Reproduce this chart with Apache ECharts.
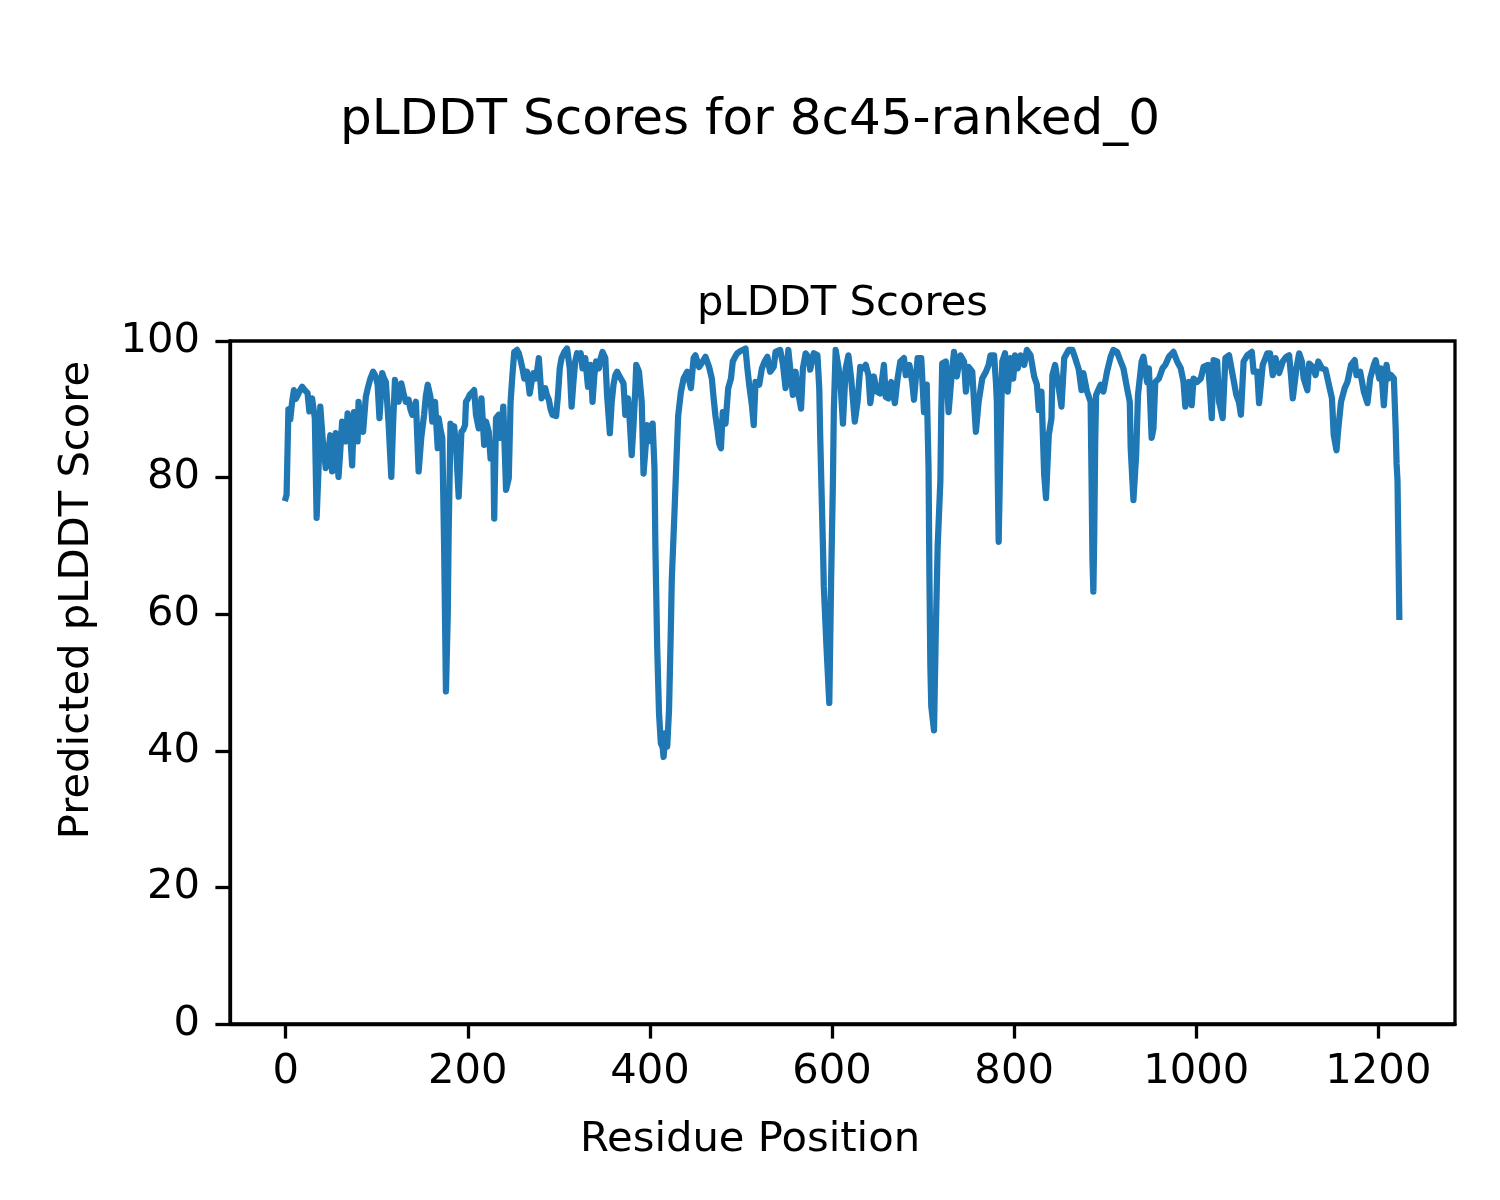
<!DOCTYPE html>
<html>
<head>
<meta charset="utf-8">
<script src="https://cdn.jsdelivr.net/npm/echarts@6/dist/echarts.min.js"></script>
<style>
html,body{margin:0;padding:0;background:#fff;}
#chart{width:1500px;height:1200px;}
</style>
</head>
<body>
<div id="chart"></div>
<script>
// Residue positions (x) and pLDDT values (y)
const residues = [
0,1,3,5,7,9,11,13,15,18,21,24,26,29,32,34,36,38,41,44,47,49,51,53,55,58,60,62,64,66,68,71,73,75,77,79,80,82,85,88,90,93,96,99,101,103,106,108,110,113,116,118,120,122,124,127,130,132,135,137,139,141,143,146,149,152,154,156,159,161,164,167,168,170,172,174,176,178,179,181,183,185,187,190,193,195,197,198,200,202,205,207,209,212,215,218,220,223,225,228,229,231,234,236,239,242,245,247,249,251,254,256,258,260,262,265,268,270,272,275,278,281,283,285,287,289,291,293,297,299,301,303,306,309,312,314,316,318,320,322,324,326,329,332,335,337,339,341,344,346,348,351,353,356,358,360,362,364,366,368,371,373,376,378,380,382,384,385,388,391,393,395,397,399,401,403,405,406,408,410,412,414,415,417,419,421,423,424,427,429,431,434,437,441,445,448,450,454,458,461,465,468,470,472,474,476,478,480,483,486,489,491,494,496,499,501,505,507,509,512,514,516,520,523,526,529,532,536,538,543,546,549,552,554,557,560,562,564,566,568,571,575,576,580,584,586,587,589,590,591,594,597,599,601,602,604,606,609,612,615,618,621,625,628,631,634,637,640,642,646,649,653,657,659,662,665,669,672,675,679,681,685,688,690,694,698,701,704,706,707,708,709,712,714,716,719,720,721,725,728,732,734,737,741,745,747,750,754,756,758,761,765,769,772,774,778,780,781,782,783,785,787,790,793,796,799,801,804,807,811,814,818,822,825,827,830,833,835,838,841,842,845,849,852,855,860,864,867,871,874,876,880,884,885,886,887,888,889,890,893,895,898,902,906,909,913,917,920,924,927,928,931,934,936,940,942,946,948,951,953,955,959,963,966,970,975,979,983,986,988,990,992,995,997,1001,1005,1008,1013,1015,1017,1019,1023,1025,1027,1029,1032,1036,1040,1044,1047,1049,1052,1056,1061,1063,1067,1069,1073,1078,1081,1084,1087,1091,1095,1099,1102,1104,1106,1110,1113,1116,1118,1122,1124,1128,1131,1134,1138,1142,1145,1149,1151,1154,1156,1159,1163,1166,1170,1174,1176,1180,1184,1188,1191,1195,1197,1201,1203,1206,1209,1211,1214,1217,1219,1220,1221,1223
];
const plddt = [
77.0,77.5,90.0,88.5,91.0,92.8,91.5,92.0,92.6,93.3,92.8,92.4,89.7,91.6,88.7,74.1,81,90.4,85,81.4,84,86.2,80.9,84,86.5,80.1,84,88.2,86,85.3,89.4,86,81.8,89.6,87,85.3,91.1,88,86.7,91.8,93,94.5,95.5,94.8,93.6,88.7,95.3,94.5,94.0,88,80.1,88,94.3,92.5,91.1,93.8,92,91.1,91.4,90,89.2,90,91.1,80.9,86,89.2,92,93.6,91.8,88.2,91.1,84.3,88.7,87,85.8,70,48.7,60,71.9,87.9,86.5,87.5,84.8,77.2,86.7,87,87.7,91.1,91.5,92.1,92.5,92.8,89.2,87.2,91.6,84.8,88.2,86.7,82.8,84.8,74.0,88.7,89.2,85.8,90.4,78.2,79.9,91.1,95,98.4,98.7,98.2,97.2,96,94.5,95.5,92.3,94,95.3,94.5,97.5,91.6,92.5,93.1,92,91.4,90,89.2,89,92,96,97.5,98.4,98.9,96.0,90.4,94,97.0,98.2,97.5,98.2,96.0,97.5,93.3,96.5,91.1,95,97.0,96.0,97.5,98.4,97.5,92,86.5,91,93.6,95,95.5,95,94.5,93.8,89.2,91.6,88,83.3,87.7,93,96.5,95.5,91.1,80.6,84,87.7,86.5,85.3,87.9,81.4,70,55.2,45.5,41.1,40.5,39.1,42.6,40.6,46.0,58,65.0,75,82,89,92.5,94.5,95.5,93.1,97.5,97.9,96.2,97,97.7,96.2,94.5,91.6,89,87.2,85,84.3,89.6,87.9,93.1,94.5,97.0,97.8,98.2,98.5,98.7,98.9,96,93.6,90.6,87.7,94.0,93.6,96.0,97,97.7,95.5,96.2,98.4,98.7,96.7,93.1,98.7,98.9,92.1,95.5,93,91.6,90.1,96.0,98.2,97.5,95.8,98.2,97.9,93,86.2,75.3,70,64.0,55,47.0,65.0,79.6,90,98.7,98.7,94.5,87.9,96.0,97.9,94.5,88.2,91.1,96.2,96,96.5,95.0,90.9,94.8,92.6,92.3,96.5,91.8,91.6,94.0,90.9,94.5,97.0,97.5,95.0,96.5,94,91.4,97.5,97.5,89.6,93.6,81.4,65,52.3,46.5,43.0,57.7,69.9,79.6,90,96.7,97.0,89.6,96.0,98.4,94.8,97.9,97.0,92.6,96.2,95.5,91,86.7,91.1,94.5,95.5,96.5,97.9,97.9,94,91.1,80,70.6,85,97.0,98.2,92.6,97.5,94.5,97.9,96.0,97.9,96.5,98.7,97.9,94.8,93.6,89.9,92.6,80.4,77.0,86.2,88.7,95.0,96.5,93.1,90.4,97.5,98.7,98.7,97.5,95.8,92.8,95.3,92.6,91.1,80,68,63.3,72,85,92.1,93,93.6,92.6,95.5,97.7,98.7,98.4,97.0,96.0,93.1,91.1,84.3,76.7,83.3,92.1,97.0,97.7,94.0,96.0,85.8,87.2,94.0,94.5,96.0,96.5,97.7,98.4,97.0,96.0,94.0,90.4,93,94.0,90.6,94.5,94.0,94.5,96.2,96.5,93,88.7,97.2,97.0,91.1,90,88.7,97.5,97.9,95.0,92.1,91,89.2,97.0,97.9,98.4,95.5,95.5,90.9,96.5,98.2,98.2,95.0,97.5,95.3,97.0,97.7,97.9,95,91.6,96.0,98.2,97.0,94.5,92.8,96.7,96.2,95.0,97.0,96.0,95.8,94.0,91.6,86.2,84.0,87.2,91.1,93.1,94.0,96.5,97.2,95.0,95.5,92.6,90.9,94.5,96.5,97.2,94.5,96.0,90.6,96.5,94.5,95.0,94.5,87.2,82,79.6,59.6
];
const xTicks = [0, 200, 400, 600, 800, 1000, 1200];
const yTicks = [0, 20, 40, 60, 80, 100];

const FONT = 'DejaVu Sans';
const seriesData = residues.map((r, i) => [r, plddt[i]]);

const chart = echarts.init(document.getElementById('chart'), null, {renderer: 'canvas'});
chart.setOption({
  animation: false,
  backgroundColor: '#ffffff',
  grid: {
    left: 230, right: 45, top: 341, bottom: 176,
    show: true, borderColor: '#000000', borderWidth: 3.3, backgroundColor: 'transparent'
  },
  xAxis: {
    type: 'value',
    min: -61.15, max: 1284.15,
    axisLine: {show: true, onZero: false, lineStyle: {color: '#000', width: 3.3}},
    axisTick: {show: true, length: 14.6, lineStyle: {color: '#000', width: 3.3}, customValues: xTicks},
    axisLabel: {show: true, margin: 27, color: '#000', fontFamily: FONT, fontSize: 41.7, customValues: xTicks,
      formatter: v => String(Math.round(v))},
    splitLine: {show: false}
  },
  yAxis: {
    type: 'value',
    min: 0, max: 100, interval: 20,
    axisLine: {show: true, onZero: false, lineStyle: {color: '#000', width: 3.3}},
    axisTick: {show: true, length: 14.6, lineStyle: {color: '#000', width: 3.3}},
    axisLabel: {show: true, margin: 30, color: '#000', fontFamily: FONT, fontSize: 41.7,
      formatter: v => (yTicks.indexOf(v) >= 0 ? String(v) : '')},
    splitLine: {show: false}
  },
  graphic: [
    {type: 'text', left: 'center', x: 0, top: 96,
      style: {text: 'pLDDT Scores for 8c45-ranked_0', font: '50px "DejaVu Sans"', fill: '#000'}},
    {type: 'text', x: 842.5, y: 304, style: {text: 'pLDDT Scores', font: '41.7px "DejaVu Sans"', fill: '#000', textAlign: 'center', textVerticalAlign: 'middle'}},
    {type: 'text', x: 750, y: 1140, style: {text: 'Residue Position', font: '41.7px "DejaVu Sans"', fill: '#000', textAlign: 'center', textVerticalAlign: 'middle'}},
    {type: 'text', x: 77, y: 600, rotation: Math.PI / 2, style: {text: 'Predicted pLDDT Score', font: '41.7px "DejaVu Sans"', fill: '#000', textAlign: 'center', textVerticalAlign: 'middle'}}
  ],
  series: [{
    type: 'line',
    data: seriesData,
    showSymbol: false,
    symbol: 'none',
    lineStyle: {color: '#1f77b4', width: 6.25, join: 'round', cap: 'square'},
    itemStyle: {color: '#1f77b4'},
    clip: true
  }]
});
</script>
</body>
</html>
